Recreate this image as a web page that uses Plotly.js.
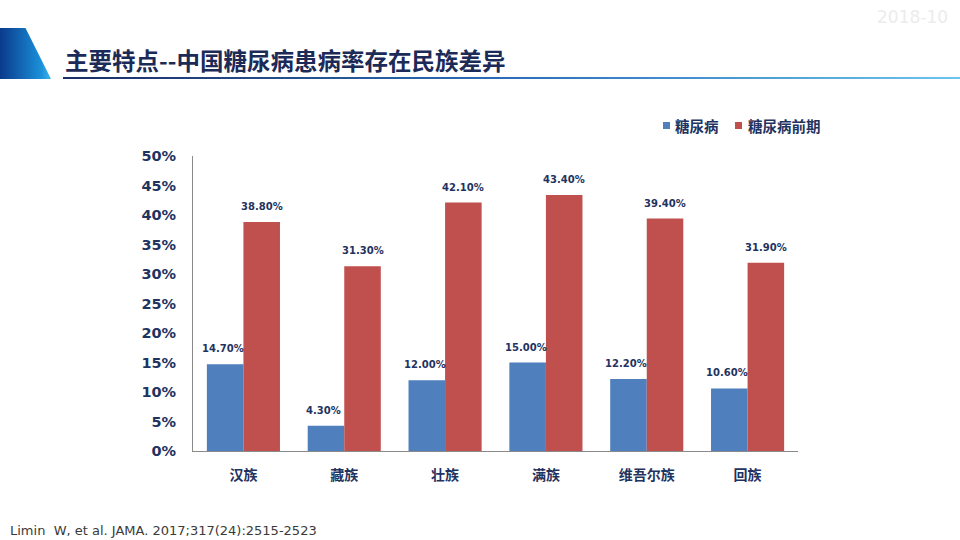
<!DOCTYPE html>
<html>
<head>
<meta charset="utf-8">
<script src="https://cdn.plot.ly/plotly-3.0.1.min.js"></script>
<style>
  html, body { margin: 0; padding: 0; background: #ffffff; }
  #wrap { position: relative; width: 960px; height: 540px; overflow: hidden; }
  #chart { position: absolute; left: 0; top: 0; width: 960px; height: 540px; }
  .tab { position: absolute; left: 0; top: 28px; width: 51px; height: 51px;
         background: linear-gradient(to right, #0a3a8c, #1a8fd8 80%, #3fb2ee);
         clip-path: polygon(0 0, 50% 0, 100% 100%, 0 100%); }
  .rule { position: absolute; left: 63px; top: 77px; width: 897px; height: 2px;
          background: linear-gradient(to right, #1b2d66, #2a6fb8 50%, #6cc3f0); }
</style>
</head>
<body>
<div id="wrap">
  <div class="tab"></div>
  <div class="rule"></div>
  <div id="chart"></div>
</div>
<script>
// Ethnic groups and prevalence (fractions)
const groups = ['汉族', '藏族', '壮族', '满族', '维吾尔族', '回族'];
const diabetes = [0.147, 0.043, 0.120, 0.150, 0.122, 0.106];
const prediabetes = [0.388, 0.313, 0.421, 0.434, 0.394, 0.319];
const seriesNames = ['糖尿病', '糖尿病前期'];
const seriesColors = ['#4f7fbc', '#c0504d'];
const yTicks = [0, 0.05, 0.10, 0.15, 0.20, 0.25, 0.30, 0.35, 0.40, 0.45, 0.50];

const navy = '#1f3361';
const numFont = 'DejaVu Sans, Noto Sans CJK SC, sans-serif';
const cjkFont = 'Noto Sans CJK SC, sans-serif';

// plot area in pixels
const M = { l: 193, r: 162, t: 156, b: 89 };
const plotW = 960 - M.l - M.r, plotH = 540 - M.t - M.b;
const px = X => (X - M.l) / plotW;
const py = Y => (540 - M.b - Y) / plotH;

const bargap = 0.275;
const barHalf = (1 - bargap) * plotW / groups.length / 4;  // half of one bar's width

const traces = [diabetes, prediabetes].map((vals, k) => ({
  type: 'bar', name: seriesNames[k], x: groups, y: vals,
  marker: { color: seriesColors[k] }, showlegend: false, hoverinfo: 'skip'
}));

// value labels above each bar
const labelFont = { family: numFont, size: 10, color: navy, weight: 'bold' };
const annotations = [];
[diabetes, prediabetes].forEach((vals, k) => {
  vals.forEach((v, i) => {
    annotations.push({
      x: groups[i], y: v, xref: 'x', yref: 'y',
      text: (v * 100).toFixed(2) + '%',
      xshift: (k === 0 ? -barHalf - 2 : barHalf), yshift: 8,
      xanchor: 'center', yanchor: 'bottom', showarrow: false, font: labelFont
    });
  });
});

// legend: small colour squares followed by series names
const legendItems = [{ sq: 663, tx: 673 }, { sq: 735, tx: 746 }];
const shapes = [];
legendItems.forEach((it, k) => {
  shapes.push({
    type: 'rect', xref: 'paper', yref: 'paper',
    x0: px(it.sq), x1: px(it.sq + 7), y0: py(129), y1: py(122),
    fillcolor: seriesColors[k], line: { width: 0 }
  });
  annotations.push({
    text: seriesNames[k], xref: 'paper', yref: 'paper',
    x: px(it.tx), xanchor: 'left', y: py(125), yanchor: 'middle', showarrow: false,
    font: { family: cjkFont, size: 14.5, color: navy, weight: 'bold' }
  });
});

annotations.push(
  {
    text: 'Limin\u00a0\u00a0W, et al. JAMA. 2017;317(24):2515-2523',
    xref: 'paper', yref: 'paper', x: px(8), xanchor: 'left',
    y: py(530), yanchor: 'middle', showarrow: false,
    font: { family: 'DejaVu Sans, sans-serif', size: 13, color: '#3a3a3a' }
  },
  {
    text: '2018-10',
    xref: 'paper', yref: 'paper', x: px(950), xanchor: 'right',
    y: py(17), yanchor: 'middle', showarrow: false,
    font: { family: 'DejaVu Sans, sans-serif', size: 17, color: '#ececec' }
  }
);

const layout = {
  width: 960, height: 540,
  paper_bgcolor: 'rgba(0,0,0,0)', plot_bgcolor: 'rgba(0,0,0,0)',
  margin: { l: M.l, r: M.r, t: M.t, b: M.b, pad: 0 },
  barmode: 'group', bargap: bargap, bargroupgap: 0,
  showlegend: false,
  title: {
    text: '主要特点--中国糖尿病患病率存在民族差异',
    xref: 'container', yref: 'container',
    x: 65 / 960, xanchor: 'left', y: 1 - 62 / 540, yanchor: 'middle',
    font: { family: cjkFont, size: 23.5, color: '#1c2a58', weight: 'bold' }
  },
  xaxis: {
    type: 'category', showgrid: false, zeroline: false,
    showline: true, linecolor: '#8a8a8a', linewidth: 1,
    ticks: 'outside', ticklen: 11, tickcolor: 'rgba(0,0,0,0)',
    tickfont: { family: cjkFont, size: 14, color: navy, weight: 'bold' }
  },
  yaxis: {
    range: [0, 0.5], tickvals: yTicks, tickformat: '.0%',
    showgrid: false, zeroline: false,
    showline: true, linecolor: '#8a8a8a', linewidth: 1,
    ticks: 'outside', ticklen: 13, tickcolor: 'rgba(0,0,0,0)',
    tickfont: { family: numFont, size: 14.5, color: navy, weight: 'bold' }
  },
  shapes: shapes,
  annotations: annotations
};

Plotly.newPlot('chart', traces, layout, { displayModeBar: false, staticPlot: true });
</script>
</body>
</html>
